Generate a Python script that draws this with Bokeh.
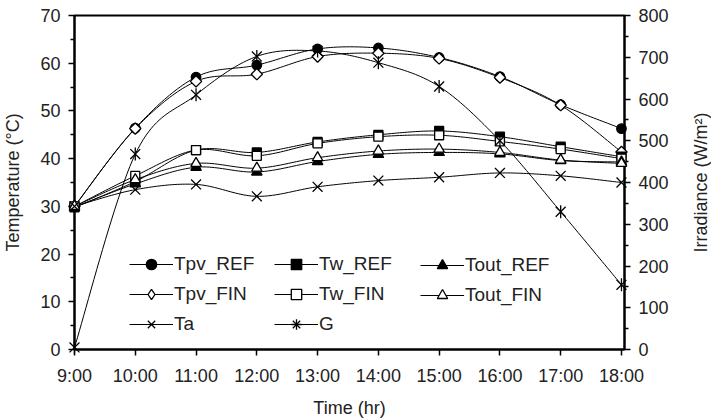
import numpy as np
from bokeh.plotting import figure
from bokeh.models import (Range1d, LinearAxis, FixedTicker, Legend, LegendItem)
from bokeh.core.properties import value
from bokeh.embed import file_html
from bokeh.resources import INLINE

# ---- data ----
hours = [9, 10, 11, 12, 13, 14, 15, 16, 17, 18]
hour_labels = ["9:00", "10:00", "11:00", "12:00", "13:00", "14:00",
               "15:00", "16:00", "17:00", "18:00"]
tpv_ref = [30.0, 46.4, 57.1, 59.6, 63.0, 63.2, 61.2, 57.2, 51.3, 46.3]
tpv_fin = [30.0, 46.3, 56.2, 57.7, 61.4, 62.1, 61.0, 57.0, 51.2, 41.4]
tw_ref = [29.8, 35.2, 41.8, 41.3, 43.5, 45.0, 45.8, 44.6, 42.5, 40.4]
tw_fin = [30.0, 36.4, 41.8, 40.6, 43.2, 44.6, 44.9, 43.6, 42.0, 40.0]
tout_ref = [29.8, 34.7, 38.2, 37.2, 39.4, 40.9, 41.3, 41.0, 39.6, 39.3]
tout_fin = [30.0, 35.6, 39.0, 38.0, 40.2, 41.6, 42.0, 41.3, 39.7, 39.0]
ta = [30.0, 33.5, 34.6, 32.1, 34.1, 35.4, 36.1, 37.0, 36.4, 35.0]
g = [5, 468, 610, 702, 715, 687, 630, 500, 330, 155]

temp_ticks = [0, 10, 20, 30, 40, 50, 60, 70]
irr_ticks = [0, 100, 200, 300, 400, 500, 600, 700, 800]

FONT = "Liberation Sans"
TXT = "#222222"


def smooth(xs, ys, n=24):
    """Excel-like smoothed line path (Catmull-Rom / Bezier) through the data."""
    xs = np.asarray(xs, float)
    ys = np.asarray(ys, float)
    pts = np.column_stack([xs, ys])
    m = len(pts)
    out = []
    t = np.linspace(0, 1, n)[:, None]
    for i in range(m - 1):
        p0 = pts[max(i - 1, 0)]
        p1 = pts[i]
        p2 = pts[i + 1]
        p3 = pts[min(i + 2, m - 1)]
        c1 = p1 + (p2 - p0) / 6.0
        c2 = p2 - (p3 - p1) / 6.0
        seg = ((1 - t) ** 3) * p1 + 3 * ((1 - t) ** 2) * t * c1 \
            + 3 * (1 - t) * t ** 2 * c2 + t ** 3 * p2
        out.append(seg if i == 0 else seg[1:])
    arr = np.vstack(out)
    return arr[:, 0], arr[:, 1]


X_END = 18.05
p = figure(width=711, height=420, output_backend="svg", toolbar_location=None,
           x_range=Range1d(9, X_END), y_range=Range1d(0, 70),
           min_border_left=73, min_border_right=87, min_border_top=15,
           min_border_bottom=71)
p.extra_y_ranges = {"g": Range1d(0, 800)}
p.xgrid.visible = False
p.ygrid.visible = False
p.outline_line_color = "black"
p.outline_line_width = 2
p.background_fill_color = "white"
p.border_fill_color = "white"


def style_axis(ax):
    ax.axis_line_color = "black"
    ax.axis_line_width = 2
    ax.major_tick_line_color = "black"
    ax.major_tick_line_width = 1.5
    ax.minor_tick_line_color = "black"
    ax.minor_tick_line_width = 1.5
    ax.major_tick_in = 0
    ax.major_tick_out = 6
    ax.minor_tick_in = 0
    ax.minor_tick_out = 4
    ax.major_label_text_font = FONT
    ax.major_label_text_font_size = "18px"
    ax.major_label_text_color = TXT
    ax.axis_label_text_font = FONT
    ax.axis_label_text_font_size = "18px"
    ax.axis_label_text_font_style = "normal"
    ax.axis_label_text_color = TXT
    ax.major_label_standoff = 8


xa = p.xaxis[0]
style_axis(xa)
xa.ticker = FixedTicker(ticks=hours)
xa.major_label_overrides = {h: lab for h, lab in zip(hours, hour_labels)}
xa.axis_label = "Time (hr)"
xa.major_label_standoff = 10
xa.axis_label_standoff = 9

ya = p.yaxis[0]
style_axis(ya)
ya.ticker = FixedTicker(ticks=temp_ticks,
                        minor_ticks=[v + 5 for v in temp_ticks[:-1]])
ya.axis_label = "Temperature (\u00b0C)"
ya.axis_label_standoff = 14

ra = LinearAxis(y_range_name="g")
style_axis(ra)
ra.ticker = FixedTicker(ticks=irr_ticks,
                        minor_ticks=[v + 50 for v in irr_ticks[:-1]])
p.add_layout(ra, "right")

# right axis title, reading bottom-to-top like the reference (unclipped overlay text)
p.text(x=[19.31], y=[35], text=["Irradiance (W/m\u00b2)"], angle=np.pi / 2,
       text_align="center", text_baseline="middle", level="overlay",
       text_font=value(FONT), text_font_size="18px", text_color=TXT)

LW = 1.0
MLW = 1.3


def series(ys, markers, y_range_name="default"):
    sx, sy = smooth(hours, ys)
    rs = [p.line(sx, sy, line_color="black", line_width=LW,
                 y_range_name=y_range_name)]
    for mk in markers:
        r = p.scatter(hours, ys, y_range_name=y_range_name, level="overlay",
                      line_color="black", line_width=MLW, **mk)
        rs.append(r)
    return rs


def legend_only(**kw):
    # an empty marker renderer whose glyph is used only in the legend
    return p.scatter([np.nan], [np.nan], line_color="black", line_width=MLW, **kw)


r_tpv_ref = series(tpv_ref, [dict(marker="circle", size=9.5, fill_color="black")])
r_tpv_fin = series(tpv_fin, [dict(marker="square", angle=np.pi / 4, size=8,
                                  fill_color="white")])
r_tpv_fin_leg = [r_tpv_fin[0], legend_only(marker="diamond", fill_color="white")]
r_tw_ref = series(tw_ref, [dict(marker="square", size=9, fill_color="black")])
r_tw_fin = series(tw_fin, [dict(marker="square", size=9, fill_color="white")])
r_tout_ref = series(tout_ref, [dict(marker="triangle", size=10.5, fill_color="black")])
r_tout_fin = series(tout_fin, [dict(marker="triangle", size=10.5, fill_color="white")])
r_ta = series(ta, [dict(marker="x", size=14)])
r_g = series(g, [dict(marker="x", size=14),
                 dict(marker="dash", size=13, angle=np.pi / 2)],
             y_range_name="g")
r_g_leg = [r_g[0], r_g[1], legend_only(marker="cross")]


def make_legend(items, loc):
    lg = Legend(items=[LegendItem(label=l, renderers=r) for l, r in items],
                location=loc, orientation="vertical",
                glyph_width=44, glyph_height=26, label_height=20,
                label_standoff=1, spacing=4, padding=0, margin=0,
                border_line_color=None, background_fill_alpha=0,
                label_text_font=FONT, label_text_font_size="19px",
                label_text_color=TXT)
    p.add_layout(lg)


make_legend([("Tpv_REF", r_tpv_ref), ("Tpv_FIN", r_tpv_fin_leg), ("Ta", r_ta)], (55, 12))
make_legend([("Tw_REF", r_tw_ref), ("Tw_FIN", r_tw_fin), ("G", r_g_leg)], (200, 12))
make_legend([("Tout_REF", r_tout_ref), ("Tout_FIN", r_tout_fin)], (346, 41))

open("out.html", "w").write(file_html(p, INLINE))
